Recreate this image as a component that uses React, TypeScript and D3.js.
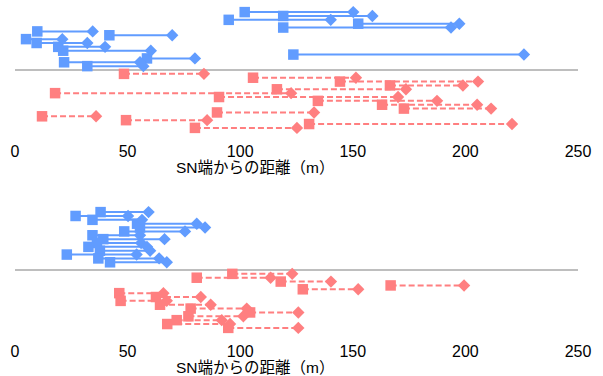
import React, { useEffect, useRef } from 'react'
import * as d3 from 'd3'

// tick labels on the x axis
const xTicks = [0, 50, 100, 150, 200, 250]

// upper panel, blue (solid) segments, top row first
const topBlueLane = [15, 14, 13, 12, 11, 10, 9, 8, 7, 6, 5, 4, 3, 2, 1]
const topBlueStart = [102, 119.1, 94.9, 152.4, 119.1, 9.9, 41.9, 4.9, 9.6, 19.2, 21.4, 123.6, 58.6, 21.8, 32.1]
const topBlueEnd = [150.2, 158.7, 140.2, 197.3, 193.6, 34.5, 69.8, 21, 32.1, 40, 60.3, 226, 79.9, 55.5, 57]

// upper panel, red (dashed) segments
const topRedLane = [-1, -2, -3, -4, -5, -6, -7, -8, -9, -10, -11, -12, -13, -14, -15]
const topRedStart = [48.4, 105.7, 144.3, 166.5, 116.3, 17.8, 90.6, 134.5, 163, 172.7, 89.7, 12, 49.3, 130.6, 79.9]
const topRedEnd = [83.9, 151.4, 205.6, 198.9, 173.6, 122.6, 170.1, 187.4, 205.2, 211.4, 132.8, 36, 85.3, 220.7, 125.2]

// lower panel, blue
const botBlueLane = [15, 14, 13, 12, 11, 10, 9, 8, 7, 6, 5, 4, 3, 2]
const botBlueStart = [38.0, 26.9, 34.4, 54.2, 55.5, 48.5, 34.4, 39.2, 36.4, 32.6, 37.7, 23.0, 37.0, 42.2]
const botBlueEnd = [59.3, 50.2, 56.4, 80.7, 84.4, 75.5, 55.5, 66.4, 56.0, 58.6, 60.0, 54.0, 64.0, 67.4]

// lower panel, red
const botRedLane = [-1, -2, -3, -4, -5, -6, -7, -8, -9, -10, -11, -12, -13, -14, -15]
const botRedStart = [96.5, 80.7, 118.0, 166.8, 127.8, 46.3, 62.6, 46.9, 64.4, 78.0, 104.4, 77.0, 71.8, 67.6, 94.7]
const botRedEnd = [123.1, 113.5, 140.3, 199.4, 152.4, 65.9, 82.5, 67.4, 86.9, 102.9, 125.8, 101.4, 91.8, 95.5, 125.8]

const xTitle = 'SN端からの距離（m）'

const BLUE = '#619CFF'
const RED = '#FF7F80'

const App = () => {
	const ref = useRef<SVGSVGElement | null>(null)

	useEffect(() => {
		const svg = d3.select(ref.current)
		svg.selectAll('*').remove()

		const x = d3.scaleLinear().domain([0, 250]).range([15, 578])
		const y = d3.scaleLinear().domain([-17, 17]).range([135.6, 4.4])

		const panels = [
			{
				top: 0,
				blue: topBlueLane.map((k, i) => ({ k, s: topBlueStart[i], e: topBlueEnd[i] })),
				red: topRedLane.map((k, i) => ({ k, s: topRedStart[i], e: topRedEnd[i] })),
			},
			{
				top: 200,
				blue: botBlueLane.map((k, i) => ({ k, s: botBlueStart[i], e: botBlueEnd[i] })),
				red: botRedLane.map((k, i) => ({ k, s: botRedStart[i], e: botRedEnd[i] })),
			},
		]

		const sq = 10.5
		const dm = 6.2

		panels.forEach(p => {
			const g = svg.append('g').attr('transform', `translate(0,${p.top})`)

			// zero line
			g.append('line')
				.attr('x1', x(0))
				.attr('x2', x(250))
				.attr('y1', y(0))
				.attr('y2', y(0))
				.attr('stroke', '#BEBEBE')
				.attr('stroke-width', 2)

			const drawSet = (rows, color, dashed) => {
				g.selectAll(null)
					.data(rows)
					.enter()
					.append('line')
					.attr('x1', d => x(d.s))
					.attr('x2', d => x(d.e))
					.attr('y1', d => y(d.k))
					.attr('y2', d => y(d.k))
					.attr('stroke', color)
					.attr('stroke-width', 2)
					.attr('stroke-dasharray', dashed ? '6,3' : null)

				g.selectAll(null)
					.data(rows)
					.enter()
					.append('rect')
					.attr('x', d => x(d.s) - sq / 2)
					.attr('y', d => y(d.k) - sq / 2)
					.attr('width', sq)
					.attr('height', sq)
					.attr('fill', color)

				g.selectAll(null)
					.data(rows)
					.enter()
					.append('path')
					.attr('d', d => {
						const cx = x(d.e),
							cy = y(d.k)
						return `M${cx},${cy - dm}L${cx + dm},${cy}L${cx},${cy + dm}L${cx - dm},${cy}Z`
					})
					.attr('fill', color)
			}

			drawSet(p.blue, BLUE, false)
			drawSet(p.red, RED, true)

			g.selectAll(null)
				.data(xTicks)
				.enter()
				.append('text')
				.attr('x', d => x(d))
				.attr('y', 157)
				.attr('text-anchor', 'middle')
				.attr('fill', '#000')
				.style('font-size', '16px')
				.text(d => d)

			g.append('text')
				.attr('x', 176)
				.attr('y', 173)
				.attr('fill', '#000')
				.style('font-size', '15.5px')
				.text(xTitle)
		})
	}, [])

	return (
		<svg
			ref={ref}
			width={603}
			height={376}
			style={{
				position: 'absolute',
				left: 0,
				top: 0,
				background: '#fff',
				fontFamily: '"Liberation Sans", Arial, "Noto Sans CJK JP", sans-serif',
			}}
		></svg>
	)
}

export default App
